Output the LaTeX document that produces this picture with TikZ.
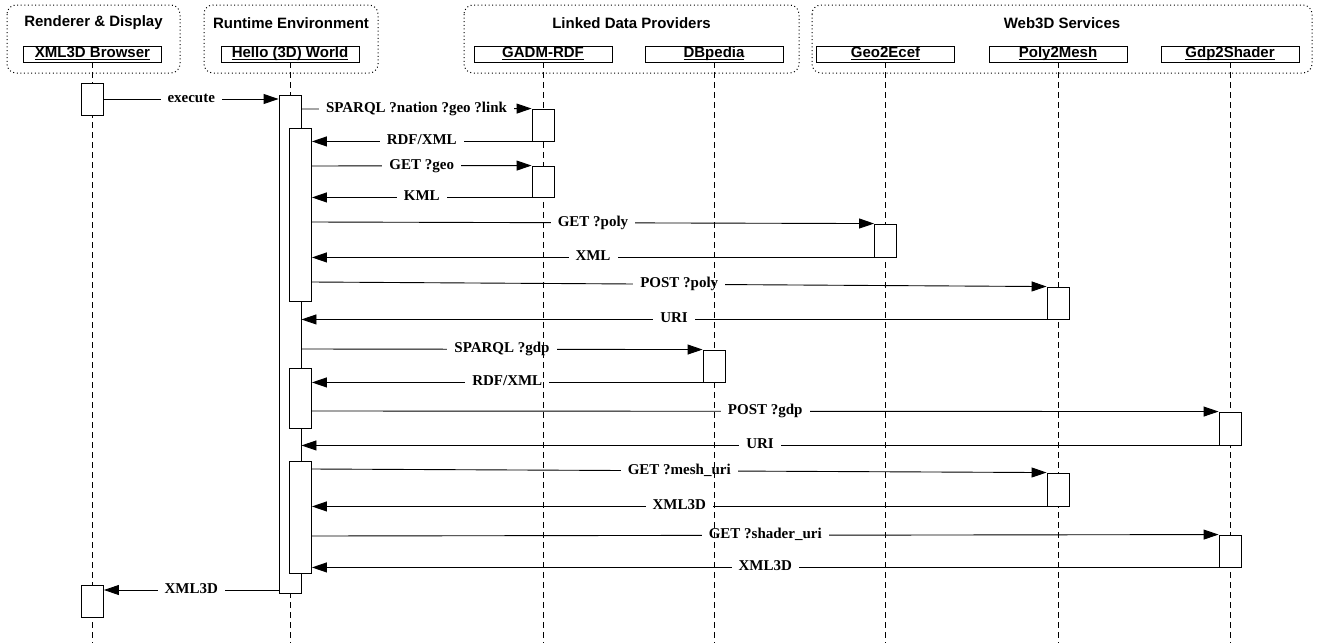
\documentclass[tikz,border=0pt]{standalone}
\usepackage{fontspec}
\setmainfont{Liberation Serif}
\newfontfamily\headsans{Liberation Sans}
\usetikzlibrary{arrows.meta}
\pgfdeclarelayer{msglayer}
\pgfdeclarelayer{lifelayer}
\pgfsetlayers{msglayer,lifelayer,main}
\newcommand{\hdul}[1]{\underline{\smash{#1}}}
\begin{document}
\begin{tikzpicture}[x=1pt,y=-1pt,
  group/.style={draw, line width=1pt, dash pattern=on 1pt off 2.6pt, rounded corners=9pt},
  grouptitle/.style={font=\headsans\bfseries\fontsize{15}{18}\selectfont, inner sep=0pt},
  actor/.style={draw, line width=0.9pt, fill=white, minimum width=138pt, minimum height=16pt, inner sep=0pt, text height=10.5pt, text depth=3.5pt, font=\headsans\bfseries\fontsize{15}{18}\selectfont},
  life/.style={line width=0.9pt, dash pattern=on 6pt off 4pt},
  act/.style={draw, line width=0.9pt, fill=white, minimum width=22pt, inner sep=0pt},
  msg/.style={line width=0.9pt, -{Triangle[length=15pt,width=10pt]}},
  lbl/.style={fill=white, inner xsep=7pt, inner ysep=1pt, text height=10pt, text depth=3pt, font=\bfseries\fontsize{15}{18}\selectfont}
]
\useasboundingbox (0,0) rectangle (1320,643);
\coordinate (bot) at (0,643);

% groups
\draw[group] (7,5) rectangle (180,73);
\node[grouptitle] (t1) at (93.5,23) {Renderer \& Display};
\draw[group] (204,5) rectangle (378,73);
\node[grouptitle] (t2) at (291,23) {Runtime Environment};
\draw[group] (464,5) rectangle (799,73);
\node[grouptitle] (t3) at (631.5,23) {Linked Data Providers};
\draw[group] (812,5) rectangle (1312,73);
\node[grouptitle] (t4) at (1062,23) {Web3D Services};

% actors
\node[actor] (xb) at (92.5,54) {\hdul{XML3D Browser}};
\node[actor] (hw) at (290,54) {\hdul{Hello (3D) World}};
\node[actor] (ga) at (543,54) {\hdul{GADM-RDF}};
\node[actor] (db) at (714,54) {\hdul{DBpedia}};
\node[actor] (ge) at (885.5,54) {\hdul{Geo2Ecef}};
\node[actor] (pm) at (1058,54) {\hdul{Poly2Mesh}};
\node[actor] (gs) at (1230,54) {\hdul{Gdp2Shader}};

% lifelines
\begin{pgfonlayer}{lifelayer}
\foreach \a in {xb,hw,ga,db,ge,pm,gs}
  \draw[life] (\a.south) -- (\a.south |- bot);
\end{pgfonlayer}

% activations
\node[act, minimum height=32pt] (b1) at (92.5,99) {};
\node[act, minimum height=32pt] (b2) at (92.5,601) {};
\node[act, minimum height=498pt] (h0) at (290,344) {};
\node[act, minimum height=173pt] (h1) at (300.5,214.5) {};
\node[act, minimum height=60pt] (h2) at (300.5,398) {};
\node[act, minimum height=112pt] (h3) at (300.5,517) {};
\node[act, minimum height=32pt] (g1) at (543,125) {};
\node[act, minimum height=31pt] (g2) at (543,181.5) {};
\node[act, minimum height=32pt] (d1) at (714,366) {};
\node[act, minimum height=33pt] (e1) at (885.5,240.5) {};
\node[act, minimum height=32pt] (p1) at (1058,303) {};
\node[act, minimum height=33pt] (p2) at (1058,489.5) {};
\node[act, minimum height=33pt] (s1) at (1230,428.5) {};
\node[act, minimum height=32pt] (s2) at (1230,551) {};

% rows
\coordinate (r1) at (0,99);
\coordinate (r2) at (0,109);
\coordinate (r4) at (0,166);
\coordinate (r6) at (0,222);
\coordinate (r8) at (0,282);
\coordinate (r10) at (0,349);
\coordinate (r12) at (0,411);
\coordinate (r14) at (0,469);
\coordinate (r16) at (0,536);
\coordinate (r18) at (0,590);

% messages
\begin{pgfonlayer}{msglayer}
\draw[msg] (b1.east |- r1) -- node[lbl] (l1) {execute} (h0.west |- r1);
\draw[msg] (h0.east |- r2) -- node[lbl] (l2) {SPARQL ?nation ?geo ?link} (g1.north west);
\draw[msg] (g1.south west) -- node[lbl] (l3) {RDF/XML} (h1.east |- g1.south west);
\draw[msg] (h1.east |- r4) -- node[lbl] (l4) {GET ?geo} (g2.north west);
\draw[msg] (g2.south west) -- node[lbl] (l5) {KML} (h1.east |- g2.south west);
\draw[msg] (h1.east |- r6) -- node[lbl] (l6) {GET ?poly} (e1.north west);
\draw[msg] (e1.south west) -- node[lbl] (l7) {XML} (h1.east |- e1.south west);
\draw[msg] (h1.east |- r8) -- node[lbl] (l8) {POST ?poly} (p1.north west);
\draw[msg] (p1.south west) -- node[lbl] (l9) {URI} (h0.east |- p1.south west);
\draw[msg] (h0.east |- r10) -- node[lbl] (l10) {SPARQL ?gdp} (d1.north west);
\draw[msg] (d1.south west) -- node[lbl] (l11) {RDF/XML} (h2.east |- d1.south west);
\draw[msg] (h2.east |- r12) -- node[lbl] (l12) {POST ?gdp} (s1.north west);
\draw[msg] (s1.south west) -- node[lbl] (l13) {URI} (h0.east |- s1.south west);
\draw[msg] (h3.east |- r14) -- node[lbl] (l14) {GET ?mesh\_uri} (p2.north west);
\draw[msg] (p2.south west) -- node[lbl] (l15) {XML3D} (h3.east |- p2.south west);
\draw[msg] (h3.east |- r16) -- node[lbl] (l16) {GET ?shader\_uri} (s2.north west);
\draw[msg] (s2.south west) -- node[lbl] (l17) {XML3D} (h3.east |- s2.south west);
\draw[msg] (h0.west |- r18) -- node[lbl] (l18) {XML3D} (b2.east |- r18);
\end{pgfonlayer}
\end{tikzpicture}
\end{document}
